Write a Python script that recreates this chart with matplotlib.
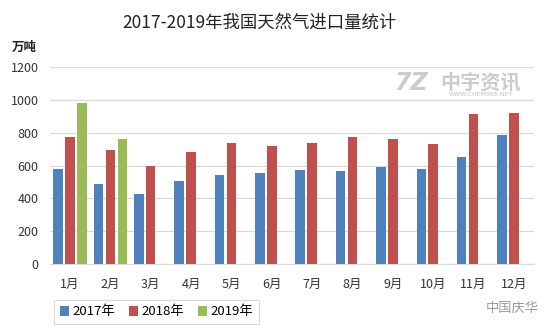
import matplotlib
matplotlib.use('Agg')
from matplotlib import pyplot as plt
import numpy as np

plt.rcParams['font.family'] = ['Noto Sans CJK SC', 'DejaVu Sans']

months = ['1月', '2月', '3月', '4月', '5月', '6月', '7月', '8月', '9月', '10月', '11月', '12月']
imports_2017 = [580, 488, 427, 506, 543, 555, 573, 567, 592, 580, 653, 787]
imports_2018 = [775, 695, 598, 683, 738, 720, 738, 775, 762, 732, 915, 921]
imports_2019 = [980, 759]
series_names = ['2017年', '2018年', '2019年']
colors = ['#4F81BD', '#C0504D', '#9BBB59']
yticks = [0, 200, 400, 600, 800, 1000, 1200]

fig = plt.figure(figsize=(5.54, 3.32), dpi=100)
ax = fig.add_axes([0.09, 0.205, 0.874, 0.593])

x = np.arange(len(months))
width = 0.235
step = 0.295
all_series = [imports_2017, imports_2018, imports_2019]
for i, (vals, name, c) in enumerate(zip(all_series, series_names, colors)):
    xs = x[:len(vals)] + (i - 1) * step
    ax.bar(xs, vals, width=width, color=c, label=name, zorder=3)

ax.set_xlim(-0.5, len(months) - 0.5)
ax.set_ylim(0, 1200)
ax.set_yticks(yticks)
ax.set_yticklabels([str(v) for v in yticks], fontsize=9, color='#333333')
ax.set_xticks(x)
ax.set_xticklabels(months, fontsize=9, color='#333333')
ax.tick_params(axis='both', length=0)
ax.tick_params(axis='y', pad=8)
ax.tick_params(axis='x', pad=10)
ax.grid(axis='y', color='#d9d9d9', linewidth=0.9, zorder=0)
for s in ['top', 'right', 'left']:
    ax.spines[s].set_visible(False)
ax.spines['bottom'].set_color('#d9d9d9')

# title and unit
fig.text(259 / 554, 1 - 23 / 332, '2017-2019年我国天然气进口量统计', ha='center', va='center',
         fontsize=12.5, color='#222222')
fig.text(24 / 554, 1 - 47 / 332, '万吨', ha='center', va='center', fontsize=9,
         fontweight='bold', color='#222222')

# legend
leg = fig.legend(loc='center left', bbox_to_anchor=(47 / 554, 1 - 312 / 332), ncol=3,
                 fontsize=9.5, frameon=True, handlelength=0.7, handleheight=0.7,
                 handletextpad=0.3, columnspacing=1.0, borderpad=0.45, fancybox=False)
leg.get_frame().set_edgecolor('#d0d0d0')
leg.get_frame().set_linewidth(0.8)

# watermarks
fig.text(411 / 554, 1 - 83 / 332, '7Z', ha='center', va='center', fontsize=17,
         fontweight='bold', style='italic', color='#cccccc', family='DejaVu Sans')
fig.text(481 / 554, 1 - 82 / 332, '中宇资讯', ha='center', va='center', fontsize=14.5,
         fontweight='bold', color='#cccccc')
fig.text(481 / 554, 1 - 95 / 332, 'WWW.CHEM365.NET', ha='center', va='center', fontsize=4.5,
         color='#c4c4c4', family='DejaVu Sans',
         bbox=dict(facecolor='white', edgecolor='none', pad=0.5))
fig.text(512 / 554, 1 - 308 / 332, '中国庆华', ha='center', va='center', fontsize=9.5,
         color='#9a9a9a')

fig.savefig('out.png', dpi=100)
